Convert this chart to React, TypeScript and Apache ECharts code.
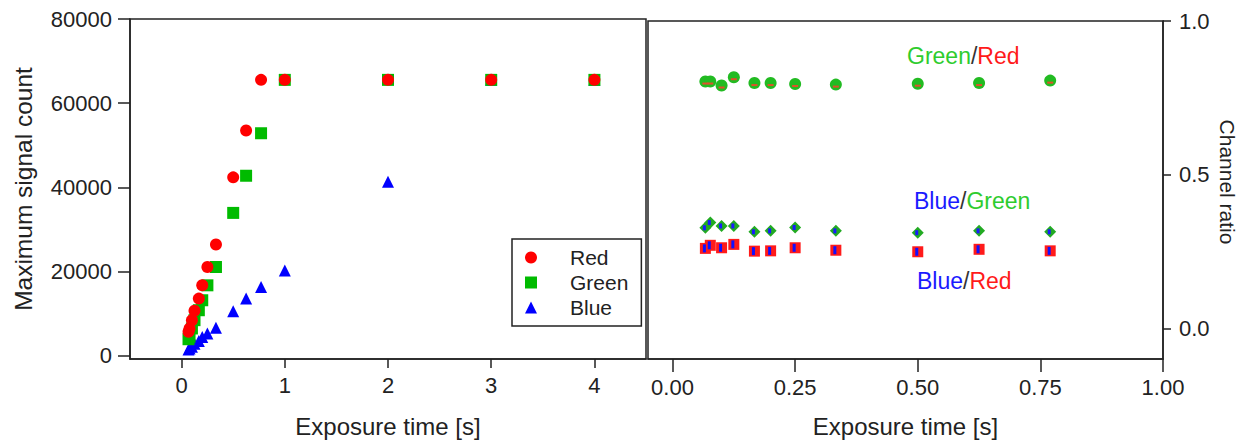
import React, { useEffect, useRef } from 'react';
import * as echarts from 'echarts';

// ---- data ----
const exposureTimes = [0.067, 0.077, 0.1, 0.125, 0.167, 0.2, 0.25, 0.333, 0.5, 0.625, 0.77, 1, 2, 3, 4];
const redCounts = [5680, 6460, 8400, 10650, 13560, 16710, 21060, 26410, 42370, 53490, 65535, 65535, 65535, 65535, 65535];
const greenCounts = [3900, 4500, 6460, 8430, 10790, 13160, 16710, 21060, 33920, 42750, 52850, 65535, 65535, 65535, 65535];
const blueCounts = [1450, 1700, 2130, 2800, 3500, 4400, 5280, 6630, 10560, 13560, 16330, 20260, 41320, 65535, 65535];

const ratioTimes = [0.067, 0.077, 0.1, 0.125, 0.167, 0.2, 0.25, 0.333, 0.5, 0.625, 0.77];
const greenRedRatio = [0.803, 0.803, 0.79, 0.817, 0.798, 0.798, 0.795, 0.793, 0.796, 0.798, 0.806];
const blueGreenRatio = [0.327, 0.344, 0.333, 0.333, 0.314, 0.317, 0.328, 0.317, 0.311, 0.317, 0.314];
const blueRedRatio = [0.26, 0.27, 0.262, 0.273, 0.251, 0.252, 0.262, 0.254, 0.249, 0.257, 0.252];

const leftXTicks = [0, 1, 2, 3, 4];
const leftYTicks = [0, 20000, 40000, 60000, 80000];
const rightXTicks = [0, 0.25, 0.5, 0.75, 1.0];
const rightYTicks = [0, 0.5, 1.0];

const FONT = "'Liberation Sans', Arial, sans-serif";
const INK = '#222';

const pairs = (xs: number[], ys: number[]) => xs.map((x, i) => [x, ys[i]]);

export default function App() {
  const ref = useRef<HTMLDivElement>(null);
  useEffect(() => {
    const chart = echarts.init(ref.current!, null, { renderer: 'svg' });
    const axisLine = { show: true, onZero: false, lineStyle: { color: INK, width: 1.5 } };
    const option: any = {
      animation: false,
      backgroundColor: '#fff',
      textStyle: { fontFamily: FONT },
      grid: [
        { left: 130, top: 19, width: 516, height: 342, show: true, borderColor: INK, borderWidth: 1.5 },
        { left: 648, top: 21, width: 515, height: 342, show: true, borderColor: INK, borderWidth: 1.5 },
      ],
      xAxis: [
        {
          gridIndex: 0, type: 'value', min: -0.5, max: 4.5,
          axisLine,
          axisTick: { show: true, length: 9, customValues: leftXTicks, lineStyle: { color: INK, width: 1.5 } },
          axisLabel: { customValues: leftXTicks, margin: 15, fontSize: 22, color: INK, fontFamily: FONT, formatter: (v: number) => String(v) },
          splitLine: { show: false },
          name: 'Exposure time [s]', nameLocation: 'middle', nameGap: 55,
          nameTextStyle: { fontSize: 24, color: INK, fontFamily: FONT },
        },
        {
          gridIndex: 1, type: 'value', min: -0.05, max: 1.0,
          axisLine,
          axisTick: { show: true, length: 13, customValues: rightXTicks, lineStyle: { color: INK, width: 1.5 } },
          axisLabel: { customValues: rightXTicks, margin: 17, fontSize: 22, color: INK, fontFamily: FONT, formatter: (v: number) => v.toFixed(2) },
          splitLine: { show: false },
          name: 'Exposure time [s]', nameLocation: 'middle', nameGap: 55,
          nameTextStyle: { fontSize: 24, color: INK, fontFamily: FONT },
        },
      ],
      yAxis: [
        {
          gridIndex: 0, type: 'value', min: -800, max: 80000,
          axisLine,
          axisTick: { show: true, length: 12, customValues: leftYTicks, lineStyle: { color: INK, width: 1.5 } },
          axisLabel: { customValues: leftYTicks, margin: 18, fontSize: 22, color: INK, fontFamily: FONT, formatter: (v: number) => String(v) },
          splitLine: { show: false },
          name: 'Maximum signal count', nameLocation: 'middle', nameGap: 94,
          nameTextStyle: { fontSize: 24.5, color: INK, fontFamily: FONT },
        },
        {
          gridIndex: 1, type: 'value', position: 'right', min: -0.1, max: 1.0,
          axisLine,
          axisTick: { show: true, length: 8, customValues: rightYTicks, lineStyle: { color: INK, width: 1.5 } },
          axisLabel: { customValues: rightYTicks, margin: 16, fontSize: 22, color: INK, fontFamily: FONT, formatter: (v: number) => v.toFixed(1) },
          splitLine: { show: false },
          name: 'Channel ratio', nameLocation: 'middle', nameGap: 54, nameRotate: -90,
          nameTextStyle: { fontSize: 21, color: INK, fontFamily: FONT, padding: [0, 16, 0, 0] },
        },
      ],
      legend: {
        data: ['Red', 'Green', 'Blue'],
        orient: 'vertical',
        left: 512, top: 239,
        padding: [8, 13, 8, 13],
        itemGap: 4,
        itemWidth: 12, itemHeight: 12,
        borderColor: INK, borderWidth: 1.5,
        textStyle: { fontSize: 21, color: INK, fontFamily: FONT, padding: [0, 0, 0, 28] },
      },
      graphic: [
        {
          type: 'text', left: 907, top: 44,
          style: {
            text: '{g|Green}{s|/}{r|Red}',
            rich: {
              g: { fontSize: 23, fill: '#2ecc2e', fontFamily: FONT },
              s: { fontSize: 23, fill: '#333', fontFamily: FONT },
              r: { fontSize: 23, fill: '#ff1a1a', fontFamily: FONT },
            },
          },
        },
        {
          type: 'text', left: 914, top: 189,
          style: {
            text: '{b|Blue}{s|/}{g|Green}',
            rich: {
              b: { fontSize: 23, fill: '#1a1aff', fontFamily: FONT },
              s: { fontSize: 23, fill: '#333', fontFamily: FONT },
              g: { fontSize: 23, fill: '#2ecc2e', fontFamily: FONT },
            },
          },
        },
        {
          type: 'text', left: 917, top: 269,
          style: {
            text: '{b|Blue}{s|/}{r|Red}',
            rich: {
              b: { fontSize: 23, fill: '#1a1aff', fontFamily: FONT },
              s: { fontSize: 23, fill: '#333', fontFamily: FONT },
              r: { fontSize: 23, fill: '#ff1a1a', fontFamily: FONT },
            },
          },
        },
      ],
      series: [
        { name: 'Blue', type: 'scatter', xAxisIndex: 0, yAxisIndex: 0, symbol: 'triangle', symbolSize: 12, itemStyle: { color: '#0000ff', opacity: 1 }, data: pairs(exposureTimes, blueCounts) },
        { name: 'Green', type: 'scatter', xAxisIndex: 0, yAxisIndex: 0, symbol: 'rect', symbolSize: 12, itemStyle: { color: '#00bb00', opacity: 1 }, data: pairs(exposureTimes, greenCounts) },
        { name: 'Red', type: 'scatter', xAxisIndex: 0, yAxisIndex: 0, symbol: 'circle', symbolSize: 12, itemStyle: { color: '#ff0000', opacity: 1 }, data: pairs(exposureTimes, redCounts) },

        { name: 'Green/Red', type: 'scatter', xAxisIndex: 1, yAxisIndex: 1, symbol: 'circle', symbolSize: 12, itemStyle: { color: '#22bb22', opacity: 1 }, data: pairs(ratioTimes, greenRedRatio) },
        { name: 'Green/Red inner', type: 'scatter', xAxisIndex: 1, yAxisIndex: 1, symbol: 'rect', symbolSize: [6, 2], symbolOffset: [0, 2], itemStyle: { color: '#e0502a', opacity: 1 }, data: pairs(ratioTimes, greenRedRatio) },
        { name: 'Blue/Green', type: 'scatter', xAxisIndex: 1, yAxisIndex: 1, symbol: 'diamond', symbolSize: 12, itemStyle: { color: '#22aa22', opacity: 1 }, data: pairs(ratioTimes, blueGreenRatio) },
        { name: 'Blue/Green inner', type: 'scatter', xAxisIndex: 1, yAxisIndex: 1, symbol: 'rect', symbolSize: [3, 5], symbolOffset: [-1, 0], itemStyle: { color: '#1a1aff', opacity: 1 }, data: pairs(ratioTimes, blueGreenRatio) },
        { name: 'Blue/Red', type: 'scatter', xAxisIndex: 1, yAxisIndex: 1, symbol: 'rect', symbolSize: 11, itemStyle: { color: '#ff1a1a', opacity: 1 }, data: pairs(ratioTimes, blueRedRatio) },
        { name: 'Blue/Red inner', type: 'scatter', xAxisIndex: 1, yAxisIndex: 1, symbol: 'rect', symbolSize: [3, 8], symbolOffset: [-1, 0], itemStyle: { color: '#1010ff', opacity: 1 }, data: pairs(ratioTimes, blueRedRatio) },
      ],
    };
    chart.setOption(option);
    return () => chart.dispose();
  }, []);
  return <div ref={ref} style={{ position: 'fixed', left: 0, top: 0, width: 1250, height: 443 }} />;
}
